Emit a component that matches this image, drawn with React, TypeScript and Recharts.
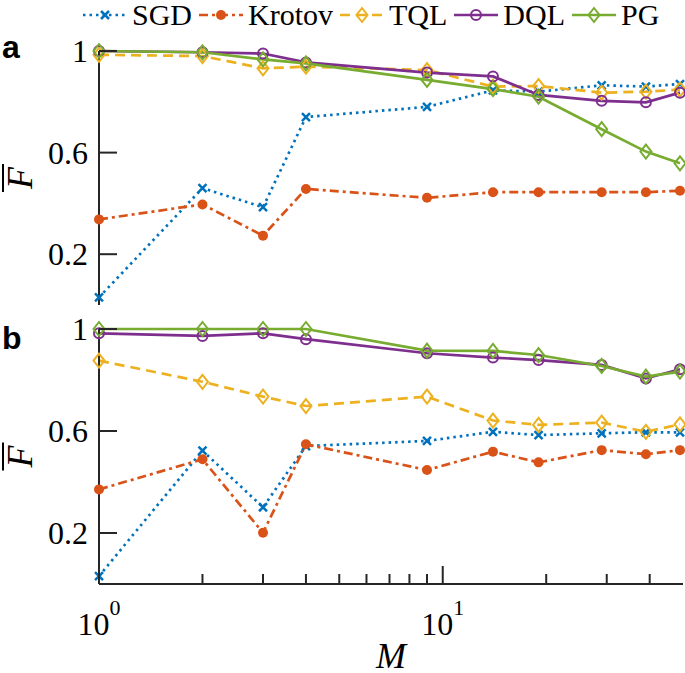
import { LineChart, Line, XAxis, YAxis } from 'recharts';

// M values (log x axis)
const M = [1, 2, 3, 4, 9, 14, 19, 29, 39, 49];

// panel a
const sgdA = [0.03, 0.46, 0.385, 0.74, 0.78, 0.845, 0.84, 0.865, 0.86, 0.87];
const krotovA = [0.337, 0.396, 0.273, 0.457, 0.422, 0.444, 0.444, 0.444, 0.444, 0.45];
const tqlA = [0.985, 0.98, 0.932, 0.938, 0.925, 0.86, 0.862, 0.836, 0.84, 0.848];
const dqlA = [1.0, 0.995, 0.99, 0.955, 0.915, 0.9, 0.827, 0.804, 0.798, 0.836];
const pgA = [1.0, 0.995, 0.967, 0.951, 0.886, 0.85, 0.82, 0.692, 0.604, 0.558];

// panel b
const sgdB = [0.031, 0.523, 0.301, 0.541, 0.561, 0.597, 0.584, 0.591, 0.595, 0.595];
const krotovB = [0.371, 0.489, 0.201, 0.548, 0.447, 0.519, 0.477, 0.525, 0.509, 0.525];
const tqlB = [0.876, 0.793, 0.735, 0.698, 0.735, 0.641, 0.624, 0.633, 0.597, 0.626];
const dqlB = [0.983, 0.973, 0.983, 0.96, 0.905, 0.888, 0.878, 0.859, 0.806, 0.842];
const pgB = [1.0, 1.0, 1.0, 1.0, 0.915, 0.914, 0.898, 0.855, 0.813, 0.833];

const xTicks = [1, 2, 3, 4, 5, 6, 7, 8, 9, 10, 20, 30, 40];
const yTicks = [0.2, 0.6, 1];

const SERIF = 'Liberation Serif';
const FRAME = '#262626';

const SERIES = [
  { key: 'sgd', name: 'SGD', color: '#0072BD', dash: '2.5 4', marker: 'cross' },
  { key: 'krotov', name: 'Krotov', color: '#D95319', dash: '9 4 3 4', marker: 'dot' },
  { key: 'tql', name: 'TQL', color: '#EDB120', dash: '10 6', marker: 'diamond' },
  { key: 'dql', name: 'DQL', color: '#7E2F8E', dash: undefined, marker: 'circle' },
  { key: 'pg', name: 'PG', color: '#77AC30', dash: undefined, marker: 'diamond' },
];

function rowsOf(sgd: number[], krotov: number[], tql: number[], dql: number[], pg: number[]) {
  return M.map((m, i) => ({ m, sgd: sgd[i], krotov: krotov[i], tql: tql[i], dql: dql[i], pg: pg[i] }));
}

const rowsA = rowsOf(sgdA, krotovA, tqlA, dqlA, pgA);
const rowsB = rowsOf(sgdB, krotovB, tqlB, dqlB, pgB);

function Marker({ kind, cx, cy, color }: { kind: string; cx: number; cy: number; color: string }) {
  if (kind === 'cross') {
    return (
      <path
        d={`M${cx - 4},${cy - 4}L${cx + 4},${cy + 4}M${cx - 4},${cy + 4}L${cx + 4},${cy - 4}`}
        stroke={color}
        strokeWidth={2.5}
        fill="none"
      />
    );
  }
  if (kind === 'dot') return <circle cx={cx} cy={cy} r={5} fill={color} />;
  if (kind === 'circle') return <circle cx={cx} cy={cy} r={5} fill="none" stroke={color} strokeWidth={2} />;
  return (
    <path
      d={`M${cx},${cy - 7}L${cx + 5.5},${cy}L${cx},${cy + 7}L${cx - 5.5},${cy}Z`}
      fill="none"
      stroke={color}
      strokeWidth={2}
    />
  );
}

const isMajor = (v: number) => Math.abs(Math.log10(v) % 1) < 1e-9;

// x ticks point inward; bottom axis of panel b also carries the 10^n labels
function makeXTick(side: 'top' | 'bottom', labels: boolean) {
  return (props: any) => {
    const { x, y, payload } = props;
    const major = isMajor(payload.value);
    const len = side === 'bottom' ? (major ? 18 : 10) : major ? 11 : 8;
    const y2 = side === 'bottom' ? y - len : y + len;
    return (
      <g>
        <line x1={x} x2={x} y1={y} y2={y2} stroke={FRAME} strokeWidth={2} />
        {labels && major && (
          <text x={x} y={y + 51} textAnchor="middle" fontFamily={SERIF} fontSize={32} fill="#000">
            10
            <tspan dy={-20} fontSize={22}>
              {Math.round(Math.log10(payload.value))}
            </tspan>
          </text>
        )}
      </g>
    );
  };
}

function makeYTick(side: 'left' | 'right') {
  return (props: any) => {
    const { x, y, payload } = props;
    const x2 = side === 'left' ? x + 18 : x - 18;
    return (
      <g>
        <line x1={x} x2={x2} y1={y} y2={y} stroke={FRAME} strokeWidth={2} />
        {side === 'left' && (
          <text x={x - 11} y={y + 11} textAnchor="end" fontFamily={SERIF} fontSize={32} fill="#000">
            {String(payload.value)}
          </text>
        )}
      </g>
    );
  };
}

function FLabel(props: any) {
  const vb = props.viewBox;
  const cx = vb.x - 19;
  const cy = vb.y + vb.height / 2;
  return (
    <g transform={`translate(${cx},${cy}) rotate(-90)`}>
      <text x={0} y={12} textAnchor="middle" fontFamily={SERIF} fontStyle="italic" fontSize={36} fill="#000">
        F
      </text>
      <line x1={-14} x2={14} y1={-17} y2={-17} stroke="#000" strokeWidth={2} />
    </g>
  );
}

function MLabel(props: any) {
  const vb = props.viewBox;
  return (
    <text
      x={vb.x + vb.width / 2}
      y={vb.y + 84}
      textAnchor="middle"
      fontFamily={SERIF}
      fontStyle="italic"
      fontSize={36}
      fill="#000"
    >
      M
    </text>
  );
}

function Panel({
  rows,
  height,
  marginTop,
  marginBottom,
  bottomHeight,
  showX,
}: {
  rows: any[];
  height: number;
  marginTop: number;
  marginBottom: number;
  bottomHeight: number;
  showX: boolean;
}) {
  return (
    <LineChart width={685} height={height} data={rows} margin={{ top: marginTop, right: 2, bottom: marginBottom, left: 39 }}>
      <XAxis
        dataKey="m"
        type="number"
        scale="log"
        domain={[1, 50]}
        ticks={xTicks}
        interval={0}
        height={bottomHeight}
        tickSize={0}
        tickMargin={0}
        axisLine={{ stroke: FRAME, strokeWidth: 2 }}
        tick={makeXTick('bottom', showX)}
        label={showX ? (p: any) => <MLabel {...p} /> : undefined}
      />
      <XAxis
        xAxisId="top"
        orientation="top"
        dataKey="m"
        type="number"
        scale="log"
        domain={[1, 50]}
        ticks={xTicks}
        interval={0}
        height={0}
        tickSize={0}
        tickMargin={0}
        axisLine={{ stroke: FRAME, strokeWidth: 2 }}
        tick={makeXTick('top', false)}
      />
      <YAxis
        domain={[0, 1]}
        ticks={yTicks}
        interval={0}
        width={60}
        tickSize={0}
        tickMargin={0}
        axisLine={{ stroke: FRAME, strokeWidth: 2 }}
        tick={makeYTick('left')}
        label={(p: any) => <FLabel {...p} />}
      />
      <YAxis
        yAxisId="right"
        orientation="right"
        domain={[0, 1]}
        ticks={yTicks}
        interval={0}
        width={0}
        tickSize={0}
        tickMargin={0}
        axisLine={{ stroke: FRAME, strokeWidth: 2 }}
        tick={makeYTick('right')}
      />
      {SERIES.map((s) => (
        <Line
          key={s.key}
          dataKey={s.key}
          type="linear"
          stroke={s.color}
          strokeWidth={2.7}
          strokeDasharray={s.dash}
          isAnimationActive={false}
          dot={(p: any) => <Marker key={`${s.key}-${p.index}`} kind={s.marker} cx={p.cx} cy={p.cy} color={s.color} />}
          activeDot={false}
        />
      ))}
    </LineChart>
  );
}

function LegendRow() {
  return (
    <div
      style={{
        position: 'absolute',
        left: 83,
        top: 0,
        height: 30,
        display: 'flex',
        alignItems: 'center',
        fontFamily: SERIF,
        fontSize: 30,
        lineHeight: '30px',
        whiteSpace: 'nowrap',
      }}
    >
      {SERIES.map((s) => (
        <div key={s.key} style={{ display: 'flex', alignItems: 'center', marginRight: 7 }}>
          <svg width={44} height={20} style={{ display: 'block' }}>
            <line x1={0} x2={44} y1={10} y2={10} stroke={s.color} strokeWidth={2.7} strokeDasharray={s.dash} />
            <Marker kind={s.marker} cx={22} cy={10} color={s.color} />
          </svg>
          <span style={{ marginLeft: 5 }}>{s.name}</span>
        </div>
      ))}
    </div>
  );
}

const tagStyle = {
  position: 'absolute' as const,
  left: 2,
  fontFamily: 'Liberation Sans',
  fontWeight: 700,
  fontSize: 32,
  lineHeight: '32px',
};

export default function App() {
  return (
    <div style={{ position: 'absolute', left: 0, top: 0, width: 685, height: 673, background: '#fff', overflow: 'hidden' }}>
      <div style={{ position: 'absolute', left: 0, top: 0 }}>
        <Panel rows={rowsA} height={317} marginTop={51} marginBottom={12} bottomHeight={0} showX={false} />
      </div>
      <div style={{ position: 'absolute', left: 0, top: 300 }}>
        <Panel rows={rowsB} height={373} marginTop={29} marginBottom={0} bottomHeight={89} showX={true} />
      </div>
      <LegendRow />
      <div style={{ ...tagStyle, top: 31 }}>a</div>
      <div style={{ ...tagStyle, top: 322 }}>b</div>
    </div>
  );
}
